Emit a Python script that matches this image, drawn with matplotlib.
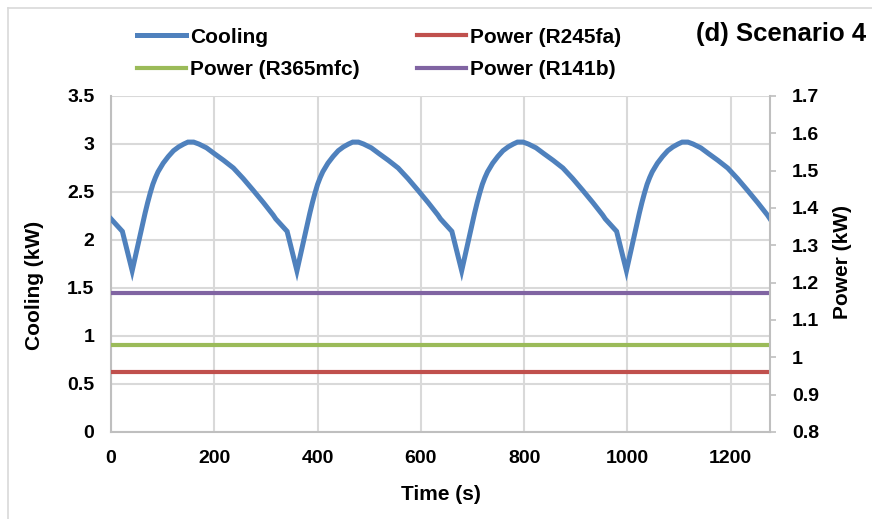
import matplotlib
matplotlib.use("Agg")
import matplotlib.pyplot as plt
from matplotlib.lines import Line2D

plt.rcParams["font.family"] = ["Liberation Sans", "DejaVu Sans"]
plt.rcParams["font.weight"] = "bold"

# cooling load over time, four cycles
time_s = [
    0, 22, 41, 46, 51, 56, 61, 66, 71, 76, 81, 86, 91, 101, 111, 121, 131, 141, 149,
    160, 170, 185, 200, 218, 237, 256, 275, 295, 314,
    319, 341, 360, 365, 370, 375, 380, 385, 390, 395, 400, 405, 410, 420, 430, 440, 450, 460, 468,
    479, 489, 504, 519, 537, 556, 575, 594, 614, 633,
    638, 660, 679, 684, 689, 694, 699, 704, 709, 714, 719, 724, 729, 739, 749, 759, 769, 779, 787,
    798, 808, 823, 838, 856, 875, 894, 913, 933, 952,
    957, 979, 998, 1003, 1008, 1013, 1018, 1023, 1028, 1033, 1038, 1043, 1048, 1058, 1068, 1078, 1088, 1098, 1106,
    1117, 1127, 1142, 1157, 1175, 1194, 1213, 1232, 1252, 1271, 1276,
]
cooling_kw = [
    2.22, 2.09, 1.68, 1.80, 1.92, 2.04, 2.16, 2.28, 2.39, 2.49, 2.58, 2.65, 2.71, 2.80, 2.87, 2.93, 2.97, 3.00, 3.02,
    3.02, 3.00, 2.96, 2.90, 2.83, 2.75, 2.64, 2.52, 2.39, 2.26,
    2.22, 2.09, 1.68, 1.80, 1.92, 2.04, 2.16, 2.28, 2.39, 2.49, 2.58, 2.65, 2.71, 2.80, 2.87, 2.93, 2.97, 3.00, 3.02,
    3.02, 3.00, 2.96, 2.90, 2.83, 2.75, 2.64, 2.52, 2.39, 2.26,
    2.22, 2.09, 1.68, 1.80, 1.92, 2.04, 2.16, 2.28, 2.39, 2.49, 2.58, 2.65, 2.71, 2.80, 2.87, 2.93, 2.97, 3.00, 3.02,
    3.02, 3.00, 2.96, 2.90, 2.83, 2.75, 2.64, 2.52, 2.39, 2.26,
    2.22, 2.09, 1.68, 1.80, 1.92, 2.04, 2.16, 2.28, 2.39, 2.49, 2.58, 2.65, 2.71, 2.80, 2.87, 2.93, 2.97, 3.00, 3.02,
    3.02, 3.00, 2.96, 2.90, 2.83, 2.75, 2.64, 2.52, 2.39, 2.26, 2.22,
]

# constant power per working fluid (kW)
power_r245fa = 0.961
power_r365mfc = 1.034
power_r141b = 1.173

x_ticks = [0, 200, 400, 600, 800, 1000, 1200]
left_ticks = [0, 0.5, 1, 1.5, 2, 2.5, 3, 3.5]
right_ticks = [0.8, 0.9, 1.0, 1.1, 1.2, 1.3, 1.4, 1.5, 1.6, 1.7]

blue = "#4f81bd"
red = "#c0504d"
green = "#9bbb59"
purple = "#8064a2"
grid_c = "#d9d9d9"

fig = plt.figure(figsize=(8.72, 5.19), dpi=100)
ax = fig.add_axes([111 / 872, 1 - 432 / 519, 659 / 872, 336 / 519])
ax2 = ax.twinx()

ax.plot(time_s, cooling_kw, color=blue, lw=3.6, solid_joinstyle="miter", zorder=3)
n = len(time_s)
ax2.plot(time_s, [power_r245fa] * n, color=red, lw=3.0)
ax2.plot(time_s, [power_r365mfc] * n, color=green, lw=3.0)
ax2.plot(time_s, [power_r141b] * n, color=purple, lw=3.0)

ax.set_xlim(0, time_s[-1])
ax.set_ylim(0, 3.5)
ax2.set_ylim(0.8, 1.7)

ax.set_xticks(x_ticks)
ax.set_yticks(left_ticks)
ax.set_yticklabels([f"{v:g}" for v in left_ticks])
ax2.set_yticks(right_ticks)
ax2.set_yticklabels([f"{v:g}" for v in right_ticks])

ax.grid(True, color=grid_c, lw=1.5)
ax.set_axisbelow(True)
ax.spines["top"].set_visible(False)
ax2.spines["top"].set_visible(False)
ax.spines["right"].set_visible(False)
ax2.spines["left"].set_visible(False)
ax2.spines["bottom"].set_visible(False)
for sp in [ax.spines["left"], ax.spines["bottom"], ax2.spines["right"]]:
    sp.set_color("#bfbfbf")
    sp.set_linewidth(1.5)

ax.tick_params(axis="both", length=0, labelsize=14, colors="black")
ax.tick_params(axis="y", pad=12)
ax.tick_params(axis="x", pad=13)
ax2.tick_params(axis="y", length=4, width=1.2, color="#bfbfbf", labelsize=14, pad=12, labelcolor="black")

ax.set_xlabel("Time (s)", fontsize=15, fontweight="bold")
ax.xaxis.set_label_coords(0.5, -0.158)
ax.set_ylabel("Cooling (kW)", fontsize=15, fontweight="bold")
ax.yaxis.set_label_coords(-0.101, 0.435)
ax2.set_ylabel("Power (kW)", fontsize=15, fontweight="bold")
ax2.yaxis.set_label_coords(1.095, 0.506)

handles = [
    Line2D([], [], color=blue, lw=3.6),
    Line2D([], [], color=green, lw=3.0),
    Line2D([], [], color=red, lw=3.0),
    Line2D([], [], color=purple, lw=3.0),
]
labels = ["Cooling", "Power (R365mfc)", "Power (R245fa)", "Power (R141b)"]
fig.legend(handles, labels, loc="upper left", bbox_to_anchor=(137 / 872, 0.947),
           ncol=2, frameon=False, fontsize=15, handlelength=2.35, handletextpad=0.2,
           columnspacing=2.75, labelspacing=0.65, borderpad=0, borderaxespad=0)

fig.text(0.993, 0.934, "(d) Scenario 4", ha="right", va="center", fontsize=18.5, fontweight="bold")

# outer chart border
fig.add_artist(Line2D([0.009, 1.0], [0.984, 0.984], color=grid_c, lw=1.2, transform=fig.transFigure))
fig.add_artist(Line2D([0.009, 0.009], [0.0, 0.984], color=grid_c, lw=1.2, transform=fig.transFigure))

fig.savefig("out.png", dpi=100)
